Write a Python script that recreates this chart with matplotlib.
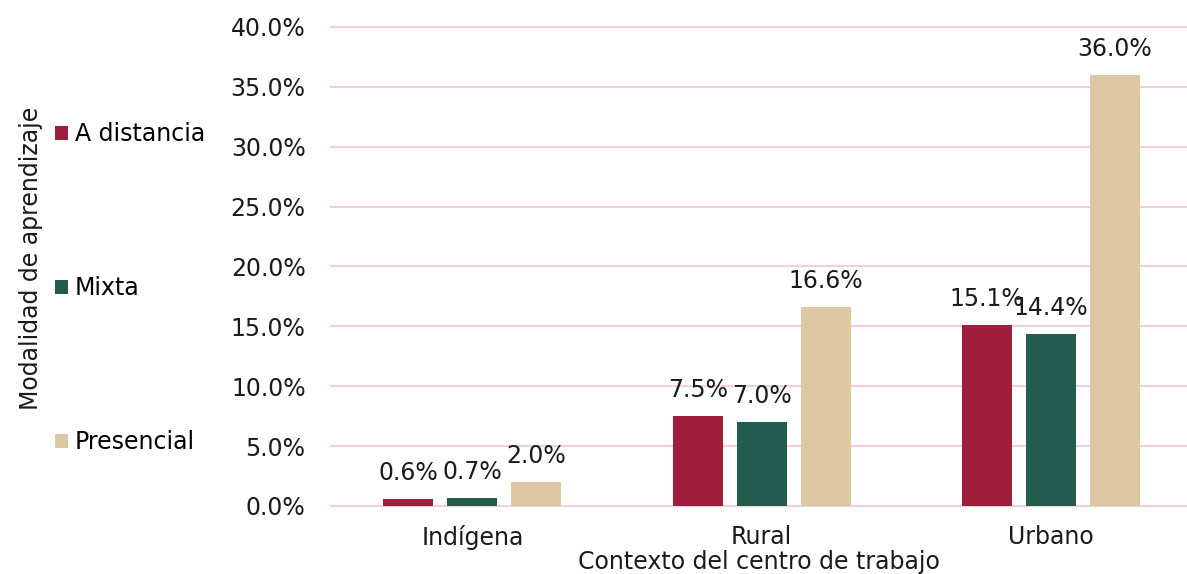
import numpy as np
import matplotlib
matplotlib.use('Agg')
import matplotlib.pyplot as plt

contextos = ['Indígena', 'Rural', 'Urbano']
modalidades = ['A distancia', 'Mixta', 'Presencial']
a_distancia = [0.6, 7.5, 15.1]
mixta = [0.7, 7.0, 14.4]
presencial = [2.0, 16.6, 36.0]
y_ticks = [0, 5, 10, 15, 20, 25, 30, 35, 40]

colores = ['#9D1F3B', '#235B4E', '#DDC8A4']
series = [a_distancia, mixta, presencial]

plt.rcParams['font.family'] = ['DejaVu Sans']
fs = 17

fig = plt.figure(figsize=(11.87, 5.74), dpi=100)
ax = fig.add_axes([0.2785, 0.1185, 0.7215, 0.8345])

x = np.arange(len(contextos))
ancho = 0.173
paso = 0.221
barras = []
for i, (vals, col, nombre) in enumerate(zip(series, colores, modalidades)):
    b = ax.bar(x + (i - 1) * paso, vals, width=ancho, color=col, label=nombre, zorder=3)
    barras.append(b)
    for xi, v in zip(x + (i - 1) * paso, vals):
        ax.annotate(f'{v:.1f}%', (xi, v), xytext=(0, 10), textcoords='offset points',
                    ha='center', va='bottom', fontsize=fs, color='#1a1a1a')

ax.set_ylim(0, 40)
ax.set_xlim(-0.49, 2.47)
ax.set_yticks(y_ticks)
ax.set_yticklabels([f'{t:.1f}%' for t in y_ticks], fontsize=fs, color='#1a1a1a')
ax.set_xticks(x)
ax.set_xticklabels(contextos, fontsize=fs, color='#1a1a1a')
ax.tick_params(axis='both', length=0)
ax.tick_params(axis='y', pad=18)
ax.tick_params(axis='x', pad=14)
ax.grid(axis='y', color='#F0D0DC', linewidth=1.5, zorder=0)
for gl in ax.get_ygridlines():
    gl.set_clip_on(False)
ax.set_axisbelow(True)
for s in ax.spines.values():
    s.set_visible(False)

ax.set_xlabel('Contexto del centro de trabajo', fontsize=fs, color='#1a1a1a', labelpad=0)

fig.text(0.026, 0.55, 'Modalidad de aprendizaje', rotation=90, ha='center', va='center',
         fontsize=fs, color='#1a1a1a')

fig.legend(handles=barras, labels=modalidades, loc='center left',
           bbox_to_anchor=(0.038, 0.498), frameon=False, fontsize=fs,
           labelspacing=5.5, handlelength=0.55, handleheight=0.55,
           handletextpad=0.3, borderaxespad=0)

fig.savefig('out.png', dpi=100)
